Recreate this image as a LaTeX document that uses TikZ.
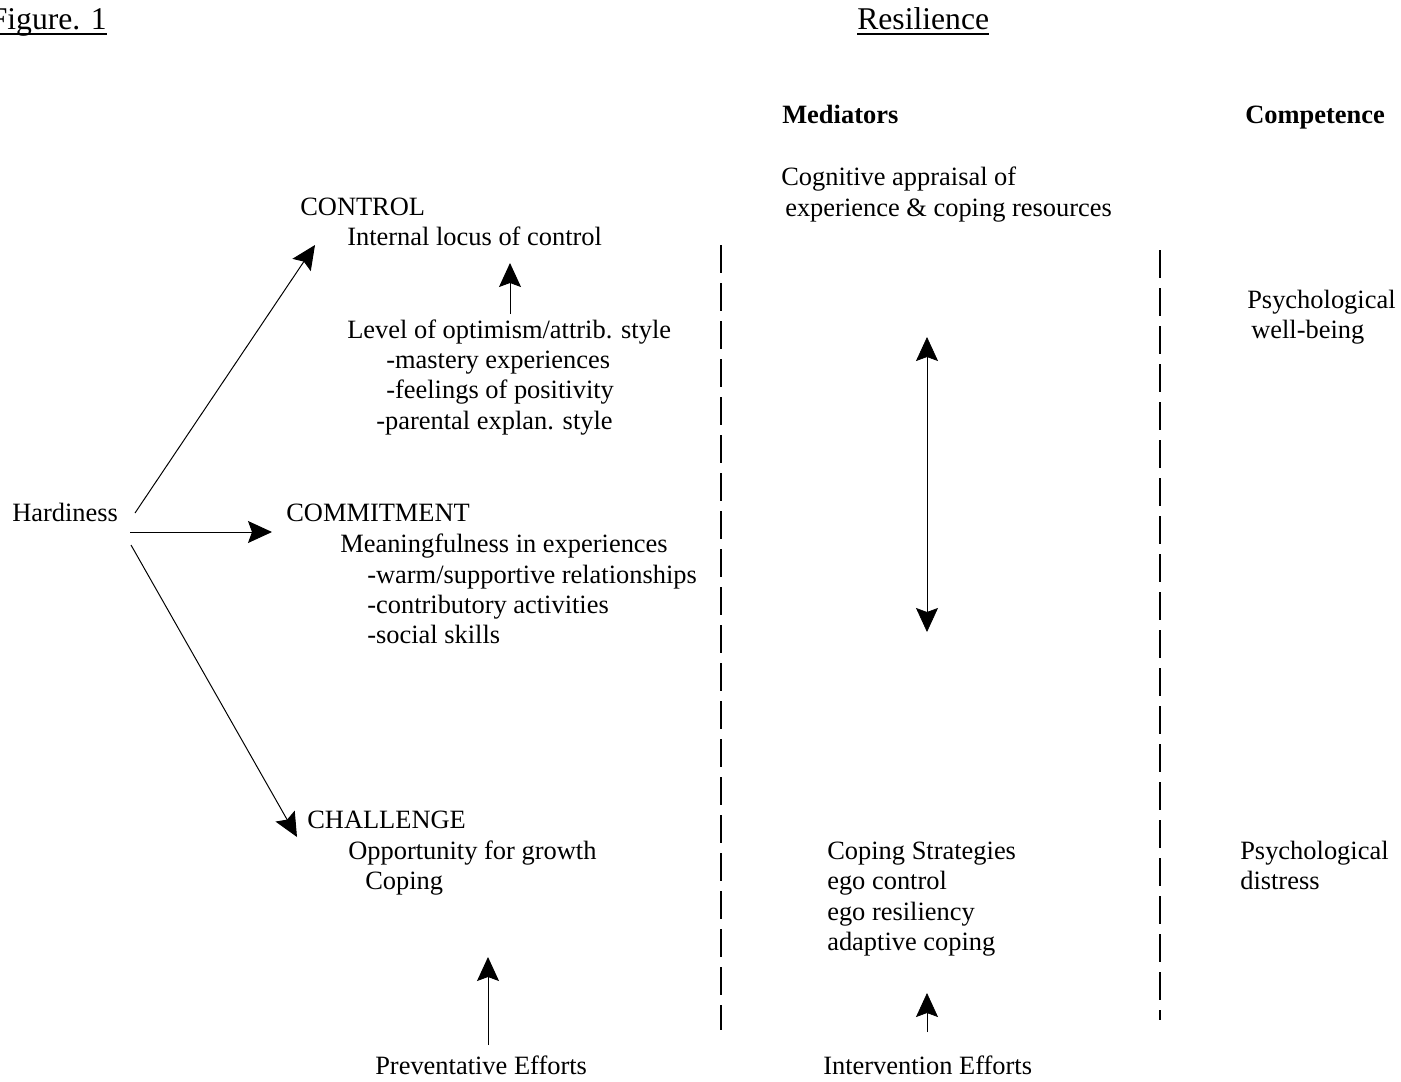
\documentclass[tikz,border=0pt]{standalone}
\usepackage{fontspec}
\setmainfont{Liberation Serif}
\usetikzlibrary{arrows.meta}
\tikzset{
  >={Stealth[length=0.6cm,width=0.55cm,inset=0.1cm]},
  txt/.style={anchor=base west, inner sep=0pt, font=\fontsize{18.8}{21}\selectfont},
  ttl/.style={txt, font=\fontsize{22.5}{26}\selectfont},
  hd/.style={txt, font=\fontsize{18.8}{21}\selectfont\bfseries},
  arr/.style={->, line width=0.7pt},
  divider/.style={line width=1.4pt, dash pattern=on 0.7cm off 0.25cm},
}
\begin{document}
\begin{tikzpicture}[x=0.025cm, y=-0.025cm]
      \useasboundingbox (0,0) rectangle (1401,1081);
      \draw
        (107,29) node[ttl, anchor=base east] (fig){Figure. 1}
        (857,29) node[ttl] (res){Resilience}
        (782,123) node[hd] (med){Mediators}
        (1245,123) node[hd] (comp){Competence}
        (781,185) node[txt] (cog1){Cognitive appraisal of}
        (785,216) node[txt] (cog2){experience \& coping resources}
        (300,215) node[txt] (ctrl){CONTROL}
        (347,245) node[txt] (locus){Internal locus of control}
        (347,338) node[txt] (optim){Level of optimism/attrib. style}
        (386,368) node[txt] (mast){-mastery experiences}
        (386,398) node[txt] (feel){-feelings of positivity}
        (376,429) node[txt] (par){-parental explan. style}
        (12,521) node[txt] (hard){Hardiness}
        (286,521) node[txt] (commit){COMMITMENT}
        (340,552) node[txt] (mean){Meaningfulness in experiences}
        (367,583) node[txt] (warm){-warm/supportive relationships}
        (367,613) node[txt] (contrib){-contributory activities}
        (367,643) node[txt] (social){-social skills}
        (307,828) node[txt] (chall){CHALLENGE}
        (348,859) node[txt] (opp){Opportunity for growth}
        (365,889) node[txt] (cop){Coping}
        (375,1074) node[txt] (prev){Preventative Efforts}
        (827,859) node[txt] (copst){Coping Strategies}
        (827,889) node[txt] (egoc){ego control}
        (827,920) node[txt] (egor){ego resiliency}
        (827,950) node[txt] (adapt){adaptive coping}
        (823,1074) node[txt] (interv){Intervention Efforts}
        (1247,308) node[txt] (well1){Psychological}
        (1251,338) node[txt] (well2){well-being}
        (1240,859) node[txt] (dist1){Psychological}
        (1240,889) node[txt] (dist2){distress};
      % underlined titles
      \draw[line width=1.4pt] ([yshift=-3.6pt]fig.base west) -- ([yshift=-3.6pt]fig.base east);
      \draw[line width=1.4pt] ([yshift=-3.6pt]res.base west) -- ([yshift=-3.6pt]res.base east);
      % arrow ends
      \coordinate (h1) at (135,513);
      \coordinate (h2) at (130,532);
      \coordinate (h3) at (131,545);
      \coordinate (t1) at (315,245);
      \coordinate (t2) at (272,532);
      \coordinate (t3) at (297,837);
      \coordinate (o1) at (510,314);
      \coordinate (o2) at (510,263);
      \coordinate (p1) at (488,1045);
      \coordinate (p2) at (488,957);
      \coordinate (i1) at (927,1032);
      \coordinate (i2) at (927,993);
      \coordinate (d1) at (927,337);
      \coordinate (d2) at (927,632);
      \coordinate (v1) at (721,245);
      \coordinate (v2) at (721,1030);
      \coordinate (w1) at (1160,250);
      \coordinate (w2) at (1160,1020);
      \begin{scope}[arr]
        \draw (h1) to (t1);
        \draw (h2) to (t2);
        \draw (h3) to (t3);
        \draw (o1) to (o2);
        \draw (p1) to (p2);
        \draw[line width=0.5pt] (i1) to (i2);
        \draw[<->, line width=0.5pt] (d1) to (d2);
      \end{scope}
      \begin{scope}[divider]
        \draw (v1) to (v2);
        \draw (w1) to (w2);
      \end{scope}
    \end{tikzpicture}
\end{document}
